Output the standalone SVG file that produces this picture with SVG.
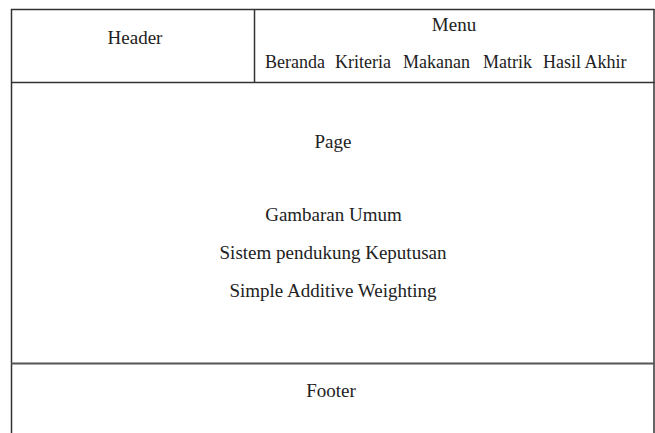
<svg xmlns="http://www.w3.org/2000/svg" width="655" height="433" viewBox="0 0 655 433">
<style>
.ln{stroke:#333;stroke-width:1.5;fill:none}
.t{font-family:"Liberation Serif","Times New Roman",serif;font-size:19px;fill:#222}
.m{font-size:18px}
.c{text-anchor:middle}
</style>
<rect width="655" height="433" fill="#fff"/>
<g id="frame">
<line class="ln" x1="11" y1="9.5" x2="654.5" y2="9.5"/>
<line class="ln" x1="11.5" y1="9" x2="11.5" y2="433"/>
<line class="ln" x1="654" y1="9" x2="654" y2="433"/>
</g>
<g id="header">
<line class="ln" x1="254.5" y1="9" x2="254.5" y2="82.5"/>
<line class="ln" x1="11" y1="82.5" x2="654.5" y2="82.5"/>
<text class="t c" x="135" y="44">Header</text>
</g>
<g id="menu">
<text class="t c" x="454" y="31">Menu</text>
<text class="t m" x="265" y="68">Beranda</text>
<text class="t m" x="335" y="68">Kriteria</text>
<text class="t m" x="403" y="68">Makanan</text>
<text class="t m" x="483" y="68">Matrik</text>
<text class="t m" x="543" y="68">Hasil Akhir</text>
</g>
<g id="page">
<text class="t c" x="333" y="148">Page</text>
<text class="t c" x="333.5" y="221">Gambaran Umum</text>
<text class="t c" x="333" y="259">Sistem pendukung Keputusan</text>
<text class="t c" x="333" y="297">Simple Additive Weighting</text>
</g>
<g id="footer">
<line class="ln" x1="11" y1="363.5" x2="654.5" y2="363.5" style="stroke:#555;stroke-width:2"/>
<text class="t c" x="331" y="397">Footer</text>
</g>
<g id="connectors"></g>
</svg>
